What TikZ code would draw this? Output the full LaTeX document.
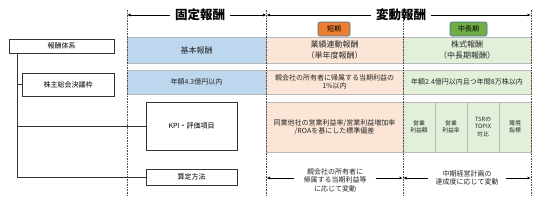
\documentclass[tikz,border=0pt]{standalone}
\usepackage{fontspec}
\setmainfont{Noto Sans CJK JP}
\usetikzlibrary{arrows.meta}
\definecolor{fixblue}{HTML}{BDD7EE}
\definecolor{shortpeach}{HTML}{FBE5D6}
\definecolor{longgreen}{HTML}{E2F0D9}
\definecolor{badgeorange}{HTML}{ED7D31}
\definecolor{badgegreen}{HTML}{70AD47}
\definecolor{badgeline}{HTML}{41719C}
\newcommand{\fsA}{\fontsize{7pt}{8.5pt}\selectfont}
\newcommand{\fsB}{\fontsize{8pt}{10.5pt}\selectfont}
\newcommand{\fsC}{\fontsize{5.8pt}{7.4pt}\selectfont}
\newcommand{\fsH}{\fontsize{12.5pt}{14pt}\selectfont\bfseries}
\begin{document}
\begin{tikzpicture}[x=1pt,y=-1pt,
  lbox/.style={draw=black!80, line width=0.7pt, fill=white, align=center, font=\fsA, inner sep=1pt},
  cellbox/.style={draw=gray!55, line width=0.5pt, align=center, inner sep=1pt, text=black!85},
  cellB/.style={cellbox, fill=fixblue},
  cellS/.style={cellbox, fill=shortpeach},
  cellL/.style={cellbox, fill=longgreen},
  badge/.style={draw=badgeline, line width=0.6pt, rounded corners=2pt, font=\fsA, inner sep=0pt, minimum height=14pt, text=black},
  hdr/.style={font=\fsH, inner xsep=5pt, inner ysep=1pt},
  arr/.style={-{Latex[length=3.5pt,width=3pt]}, line width=0.8pt},
  guide/.style={dash pattern=on 1.6pt off 1pt, line width=0.6pt, black!70},
  tree/.style={line width=0.7pt, black!80}
]
\useasboundingbox (0,0) rectangle (540,204);

% left hierarchy
\node[lbox, minimum width=105pt, minimum height=14pt] (t0) at (61.5,46) {報酬体系};
\node[lbox, minimum width=92pt, minimum height=23pt] (t1) at (68,84.5) {株主総会決議枠};
\node[lbox, minimum width=91pt, minimum height=48pt] (t2) at (191.5,126) {KPI・評価項目};
\node[lbox, minimum width=91pt, minimum height=16pt] (t3) at (191.5,177) {算定方法};
\coordinate (trunk) at (17,53);
\draw[tree] (trunk |- t0.south) |- (t3.west);
\draw[tree] (trunk |- t1.west) -- (t1.west);
\draw[tree] (trunk |- t2.west) -- (t2.west);

% row 1
\node[cellB, font=\fsB, minimum width=139pt, minimum height=26pt] (c11) at (196.5,50) {基本報酬};
\node[cellS, font=\fsB, minimum width=137pt, minimum height=26pt] (c12) at (334.5,50) {業績連動報酬\\（単年度報酬）};
\node[cellL, font=\fsB, minimum width=128pt, minimum height=26pt] (c13) at (467,50) {株式報酬\\（中長期報酬）};
% row 2
\node[cellB, font=\fsA, minimum width=139pt, minimum height=24pt] (c21) at (196.5,82) {年額4.3億円以内};
\node[cellS, font=\fsA, minimum width=137pt, minimum height=24pt] (c22) at (334.5,82) {親会社の所有者に帰属する当期利益の\\1\%以内};
\node[cellL, font=\fsA, minimum width=128pt, minimum height=24pt] (c23) at (467,82) {年額2.4億円以内且つ年間8万株以内};
% row 3
\node[cellS, font=\fsA, minimum width=137pt, minimum height=50pt] (c32) at (334.5,127) {同業他社の営業利益率/営業利益増加率\\/ROAを基にした標準偏差};
\node[cellL, font=\fsC, minimum width=32pt, minimum height=50pt] (k1) at (419,127) {営業\\利益額};
\node[cellL, font=\fsC, minimum width=32pt, minimum height=50pt] (k2) at (451,127) {営業\\利益率};
\node[cellL, font=\fsC, minimum width=32pt, minimum height=50pt] (k3) at (483,127) {TSRの\\TOPIX\\対比};
\node[cellL, font=\fsC, minimum width=32pt, minimum height=50pt] (k4) at (515,127) {環境\\指標};

% badges
\node[badge, fill=badgeorange, minimum width=32pt] (b1) at (334,29) {短期};
\node[badge, fill=badgegreen, minimum width=37pt] (b2) at (468.5,29) {中長期};

% dashed guides
\coordinate (g1t) at (127,10); \coordinate (g1b) at (127,195);
\coordinate (g2t) at (266.5,10); \coordinate (g2b) at (266.5,195);
\coordinate (g3t) at (403,10); \coordinate (g3b) at (403,195);
\coordinate (g4t) at (531,10); \coordinate (g4b) at (531,195);
\draw[guide] (g1t) -- (g1b);
\draw[guide] (g2t) -- (g2b);
\draw[guide] (g3t) -- (g3b);
\draw[guide] (g4t) -- (g4b);

% headers
\node[hdr] (h1) at (200,15) {固定報酬};
\node[hdr] (h2) at (401,15) {変動報酬};
\draw[arr] (h1.west) -- (g1t |- h1.west);
\draw[arr] (h1.east) -- (g2t |- h1.east);
\draw[arr] (h2.west) -- (g2t |- h2.west);
\draw[arr] (h2.east) -- (g4t |- h2.east);

% row 4
\coordinate (a4) at (0,178);
\node[font=\fsA, align=center, inner xsep=9pt, text=black!85] (r1) at (335,180) {親会社の所有者に\\帰属する当期利益等\\に応じて変動};
\node[font=\fsA, align=center, inner xsep=7pt, text=black!85] (r2) at (467,178) {中期経営計画の\\達成度に応じて変動};
\draw[arr] (r1.west |- a4) -- (g2b |- a4);
\draw[arr] (r1.east |- a4) -- (g3b |- a4);
\draw[arr] (r2.west |- a4) -- (g3b |- a4);
\draw[arr] (r2.east |- a4) -- (g4b |- a4);
\end{tikzpicture}
\end{document}
